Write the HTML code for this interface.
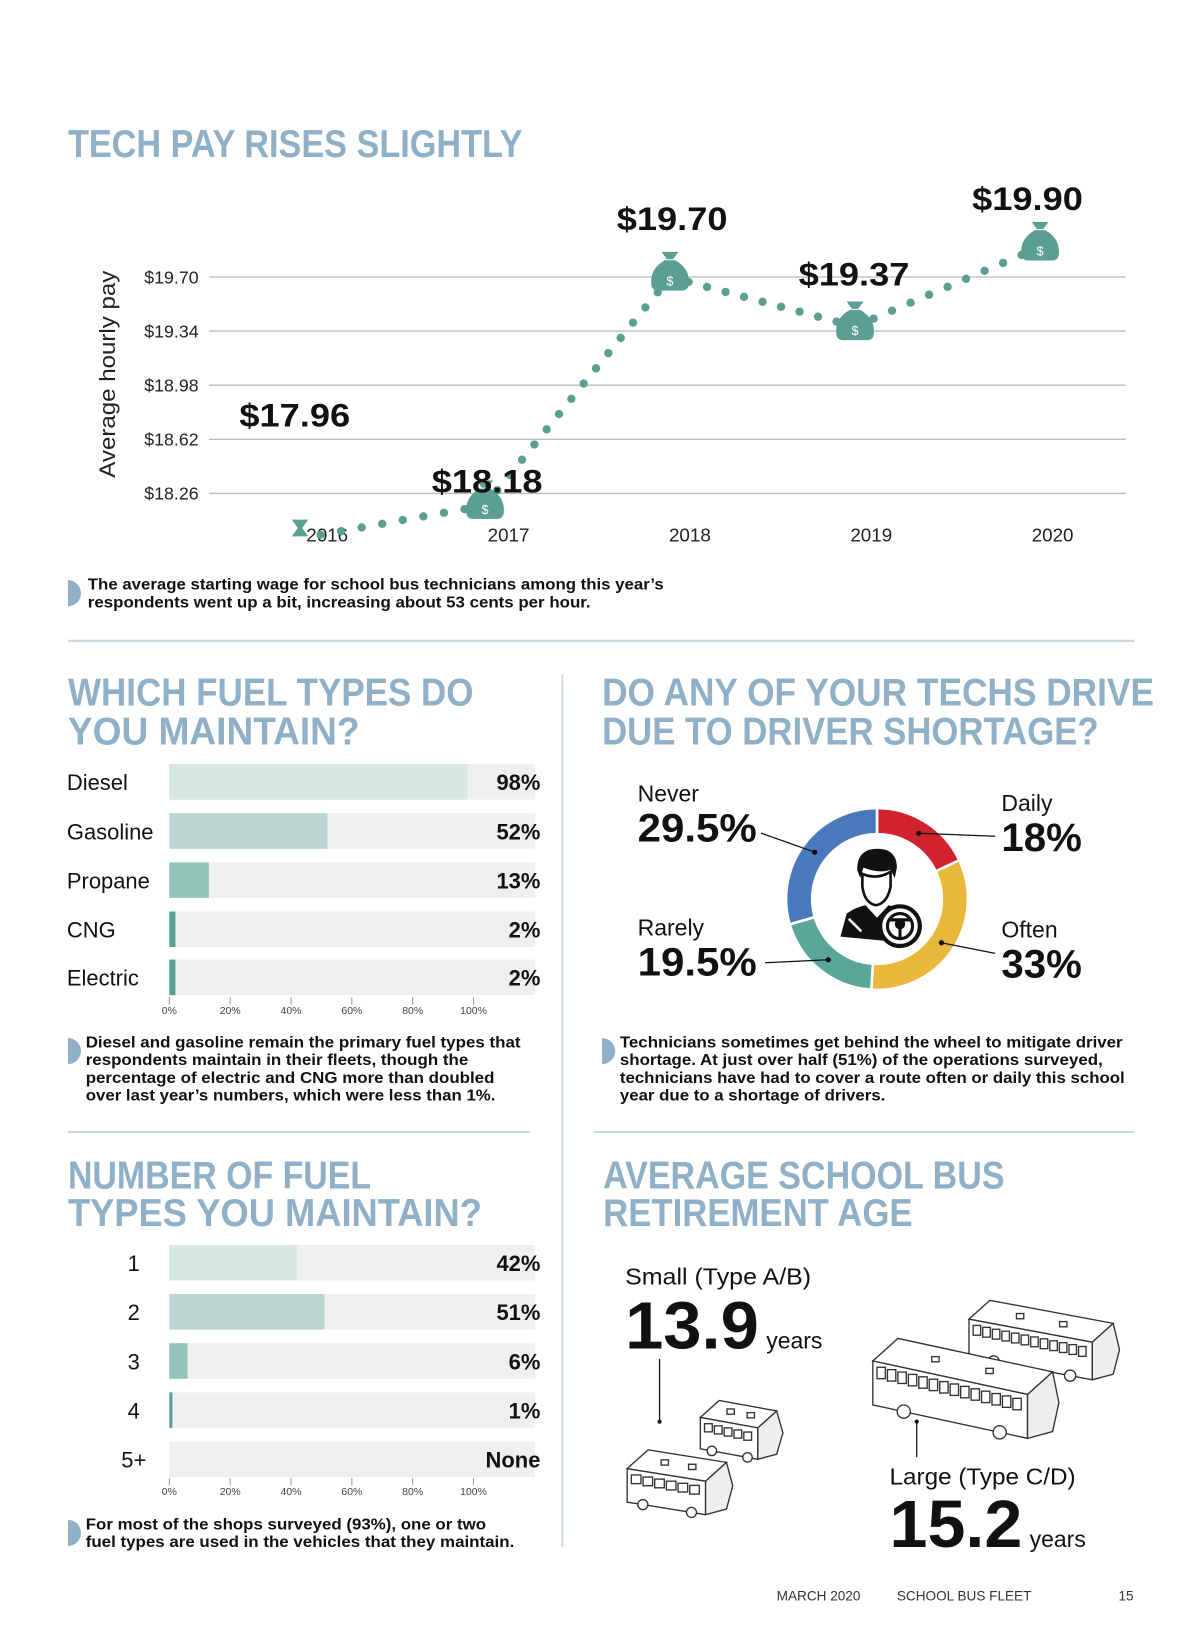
<!DOCTYPE html>
<html><head><meta charset="utf-8"><style>
html,body{margin:0;padding:0;background:#fff;}
svg{display:block;}
text{font-family:"Liberation Sans",sans-serif;}
.hd{font-family:"Liberation Sans Narrow","Liberation Sans",sans-serif;font-weight:bold;fill:#8fb0c7;font-size:37px;}
.cap{font-family:"Liberation Sans Narrow","Liberation Sans",sans-serif;font-weight:bold;font-size:15px;fill:#111;}
.big{font-weight:bold;fill:#111;}
</style></head><body>
<svg id="page" width="1200" height="1638" viewBox="0 0 1148 1567" preserveAspectRatio="none" xmlns="http://www.w3.org/2000/svg">
<g id="s1">
<text class="hd" x="65" y="150" textLength="435" lengthAdjust="spacingAndGlyphs">TECH PAY RISES SLIGHTLY</text>
<text transform="translate(110,358) rotate(-90)" text-anchor="middle" font-size="21" fill="#222" textLength="198" lengthAdjust="spacingAndGlyphs">Average hourly pay</text>
<g id="linechart"></g>
<path d="M65,555 A12,12 0 0 1 65,580 Z" fill="#8fb0c7"/>
<text class="cap" x="84" y="564" textLength="551" lengthAdjust="spacingAndGlyphs">The average starting wage for school bus technicians among this year’s</text>
<text class="cap" x="84" y="581" textLength="481" lengthAdjust="spacingAndGlyphs">respondents went up a bit, increasing about 53 cents per hour.</text>
<line x1="65" y1="613" x2="1085" y2="613" stroke="#c9d6dd" stroke-width="2"/>
</g>
<line x1="538" y1="645" x2="538" y2="1480" stroke="#c9d6dd" stroke-width="1.5"/>
<g>
<text class="hd" x="65" y="675" textLength="388" lengthAdjust="spacingAndGlyphs">WHICH FUEL TYPES DO</text>
<text class="hd" x="65" y="712" textLength="279" lengthAdjust="spacingAndGlyphs">YOU MAINTAIN?</text>
<g id="bars1"></g>
<path d="M65,993 A12,12 0 0 1 65,1018 Z" fill="#8fb0c7"/>
<text class="cap" x="82" y="1002" textLength="416" lengthAdjust="spacingAndGlyphs">Diesel and gasoline remain the primary fuel types that</text>
<text class="cap" x="82" y="1019" textLength="366" lengthAdjust="spacingAndGlyphs">respondents maintain in their fleets, though the</text>
<text class="cap" x="82" y="1036" textLength="391" lengthAdjust="spacingAndGlyphs">percentage of electric and CNG more than doubled</text>
<text class="cap" x="82" y="1053" textLength="392" lengthAdjust="spacingAndGlyphs">over last year’s numbers, which were less than 1%.</text>
<line x1="65" y1="1083" x2="507" y2="1083" stroke="#c9d6dd" stroke-width="2"/>
</g>
<g>
<text class="hd" x="576" y="675" textLength="528" lengthAdjust="spacingAndGlyphs">DO ANY OF YOUR TECHS DRIVE</text>
<text class="hd" x="576" y="712" textLength="475" lengthAdjust="spacingAndGlyphs">DUE TO DRIVER SHORTAGE?</text>
<g id="donut"></g>
<g fill="#111">
<path d="M820,832 q0,-20 19,-20 q19,0 19,18 l-2,10 l-4,-8 q-10,4 -26,-2 l-3,10 z"/>
<path d="M825,836 q14,6 27,-2 l0,14 q-3,16 -14,18 q-11,-2 -13,-18 z" fill="#fff" stroke="#111" stroke-width="2.5"/>
<path d="M804,896 l6,-22 q8,-6 18,-8 l11,12 l11,-12 q10,2 16,8 l2,6 q-16,4 -18,20 l-4,0 z"/>
<circle cx="861" cy="886" r="19" fill="#fff" stroke="#111" stroke-width="4"/>
<circle cx="861" cy="886" r="12" fill="none" stroke="#111" stroke-width="3"/>
<circle cx="861" cy="884" r="5"/>
<path d="M850,880 l22,0 M861,884 l0,14" stroke="#111" stroke-width="3"/>
<path d="M812,879 l12,12" stroke="#fff" stroke-width="2.5"/>
</g>
<g id="donutlabels"></g>
<path d="M576,993 A12,12 0 0 1 576,1018 Z" fill="#8fb0c7"/>
<text class="cap" x="593" y="1002" textLength="481" lengthAdjust="spacingAndGlyphs">Technicians sometimes get behind the wheel to mitigate driver</text>
<text class="cap" x="593" y="1019" textLength="462" lengthAdjust="spacingAndGlyphs">shortage. At just over half (51%) of the operations surveyed,</text>
<text class="cap" x="593" y="1036" textLength="483" lengthAdjust="spacingAndGlyphs">technicians have had to cover a route often or daily this school</text>
<text class="cap" x="593" y="1053" textLength="254" lengthAdjust="spacingAndGlyphs">year due to a shortage of drivers.</text>
<line x1="568" y1="1083" x2="1085" y2="1083" stroke="#c9d6dd" stroke-width="2"/>
</g>
<g>
<text class="hd" x="65" y="1137" textLength="290" lengthAdjust="spacingAndGlyphs">NUMBER OF FUEL</text>
<text class="hd" x="65" y="1173" textLength="396" lengthAdjust="spacingAndGlyphs">TYPES YOU MAINTAIN?</text>
<g id="bars2"></g>
<path d="M65,1454 A12,12 0 0 1 65,1479 Z" fill="#8fb0c7"/>
<text class="cap" x="82" y="1463" textLength="383" lengthAdjust="spacingAndGlyphs">For most of the shops surveyed (93%), one or two</text>
<text class="cap" x="82" y="1480" textLength="410" lengthAdjust="spacingAndGlyphs">fuel types are used in the vehicles that they maintain.</text>
</g>
<g>
<text class="hd" x="577" y="1137" textLength="384" lengthAdjust="spacingAndGlyphs">AVERAGE SCHOOL BUS</text>
<text class="hd" x="577" y="1173" textLength="296" lengthAdjust="spacingAndGlyphs">RETIREMENT AGE</text>
<text x="598" y="1229" font-size="22" fill="#111" textLength="178" lengthAdjust="spacingAndGlyphs">Small (Type A/B)</text>
<text class="big" x="598" y="1290" font-size="64" textLength="128" lengthAdjust="spacingAndGlyphs">13.9</text>
<text x="733" y="1290" font-size="22" fill="#111">years</text>
<line x1="631" y1="1300" x2="631" y2="1360" stroke="#111" stroke-width="1.2"/>
<circle cx="631" cy="1360" r="2" fill="#111"/>
<text x="851" y="1420" font-size="22" fill="#111" textLength="178" lengthAdjust="spacingAndGlyphs">Large (Type C/D)</text>
<text class="big" x="851" y="1480" font-size="64" textLength="127" lengthAdjust="spacingAndGlyphs">15.2</text>
<text x="985" y="1480" font-size="22" fill="#111">years</text>
<line x1="877" y1="1360" x2="877" y2="1394" stroke="#111" stroke-width="1.2"/>
<circle cx="877" cy="1360" r="2" fill="#111"/>
<g id="buses" fill="#fff" stroke="#333" stroke-width="1.3"></g>
</g>
<g font-size="13" fill="#333">
<text x="743" y="1531">MARCH 2020</text>
<text x="858" y="1531">SCHOOL BUS FLEET</text>
<text x="1070" y="1531">15</text>
</g>
</svg>
<script>
const NS="http://www.w3.org/2000/svg";
// line chart data
const years=["2016","2017","2018","2019","2020"];
const pay=[17.96,18.18,19.70,19.37,19.90];
const payLabels=["$17.96","$18.18","$19.70","$19.37","$19.90"];
const yTicks=[19.70,19.34,18.98,18.62,18.26];
const yTickLabels=["$19.70","$19.34","$18.98","$18.62","$18.26"];
// fuel bars
const fuelCats=["Diesel","Gasoline","Propane","CNG","Electric"];
const fuelVals=[98,52,13,2,2];
const fuelLabels=["98%","52%","13%","2%","2%"];
// fuel count bars
const countCats=["1","2","3","4","5+"];
const countVals=[42,51,6,1,0];
const countLabels=["42%","51%","6%","1%","None"];
const xTickVals=[0,20,40,60,80,100];
// donut
const shortCats=["Daily","Often","Rarely","Never"];
const shortVals=[18,33,19.5,29.5];
const shortLabels=["18%","33%","19.5%","29.5%"];

function mk(tag,attrs,parent,txt){const e=document.createElementNS(NS,tag);for(const k in attrs)e.setAttribute(k,attrs[k]);if(txt!==undefined)e.textContent=txt;parent.appendChild(e);return e;}

// ---- line chart
const lc=document.getElementById('linechart');
const yS=v=>265+(19.70-v)*(472-265)/1.44;
const xLab=i=>313+i*173.5;
const xPt=i=>287+i*177;
yTicks.forEach((v,i)=>{
  const l=mk('line',{x1:200,x2:1077,y1:yS(v),y2:yS(v),stroke:'#bbb','stroke-width':1.3},lc);
  
  
  const t=mk('text',{x:138,y:yS(v)+6,'font-size':17,fill:'#222',textLength:52,lengthAdjust:'spacingAndGlyphs'},lc,yTickLabels[i]);
  
  
});
years.forEach((y,i)=>{
  const t=mk('text',{x:xLab(i),y:518,'font-size':18,fill:'#222','text-anchor':'middle'},lc,y);
  
  
});
for(let i=0;i<pay.length-1;i++){
  const x1=xPt(i),y1=yS(pay[i]),x2=xPt(i+1),y2=yS(pay[i+1]);
  const d=Math.hypot(x2-x1,y2-y1);const n=Math.round(d/19);
  for(let k=1;k<n;k++){
    const f=k/n;const px=x1+(x2-x1)*f,py=y1+(y2-y1)*f;
    if(Math.hypot(px-x1,py-y1)<16||Math.hypot(px-x2,py-y2)<16)continue;
    const c=mk('circle',{cx:px,cy:py,r:4,fill:'#5a9e94'},lc);
    
    
  }
}
const labPos=[[229,408],[413,471],[590,220],[764,273],[930,201]];
pay.forEach((v,i)=>{
  const x=xPt(i),y=yS(v);
  const g=mk('g',{},lc);
  
  
  if(i===0){
    mk('path',{d:`M${x-8},${y-18} l16,0 l-6,8 l6,8 l-16,0 l6,-8 z`,fill:'#5a9e94'},g);
  } else {
    mk('path',{d:`M${x-8},${y-24} l16,0 l-5,7 l-6,0 z`,fill:'#5a9e94'},g);
    mk('path',{d:`M${x-5},${y-16} q-14,8 -13,22 q0,7 7,7 l22,0 q7,0 7,-7 q1,-14 -13,-22 z`,fill:'#5a9e94'},g);
    mk('text',{x:x,y:y+8,'font-size':12,fill:'#fff','text-anchor':'middle'},g,'$');
  }
  const t=mk('text',{x:labPos[i][0],y:labPos[i][1],'font-size':31,'font-weight':'bold',fill:'#111',textLength:106,lengthAdjust:'spacingAndGlyphs'},lc,payLabels[i]);
  
  
});

// ---- bar charts
function bars(id,cats,vals,labs,rows,labX,anchor,tickY,fills){
  const g=document.getElementById(id);
  const x0=162,xS=v=>x0+v*(453-162)/100;
  cats.forEach((c,i)=>{
    const cy=rows[i];
    const bg=mk('rect',{x:x0,y:cy-17,width:350,height:34,fill:'#eef0f0'},g);
    
    
    const b=mk('rect',{x:x0,y:cy-17,width:Math.max(0,xS(vals[i])-x0),height:34,fill:fills[i]},g);
    
    
    const t=mk('text',{x:labX,y:cy+8,'font-size':21,fill:'#111','text-anchor':anchor},g,c);
    
    
    const v=mk('text',{x:517,y:cy+8,'font-size':21,'font-weight':'bold',fill:'#111','text-anchor':'end'},g,labs[i]);
    
    
  });
  xTickVals.forEach(v=>{
    mk('line',{x1:xS(v),x2:xS(v),y1:tickY-13,y2:tickY-6,stroke:'#999','stroke-width':1},g);
    const t=mk('text',{x:xS(v),y:tickY+3,'font-size':10,fill:'#444','text-anchor':'middle'},g,v+'%');
    
    
  });
}
bars('bars1',fuelCats,fuelVals,fuelLabels,[748,795,842,889,935],64,'start',967,['#d7e7e3','#bad6d0','#93c4b8','#5a9e94','#5a9e94']);
bars('bars2',countCats,countVals,countLabels,[1208,1255,1302,1349,1396],128,'middle',1427,['#d7e7e3','#bad6d0','#93c4b8','#5a9e94','#5a9e94']);

// ---- donut
const dg=document.getElementById('donut');
const cx=839,cy=860,R=87,r=62;
const cols=['#d0232e','#e9b83c','#5aa79a','#4a78bd'];
const tot=shortVals.reduce((a,b)=>a+b,0);
let a0=0;
const mids=[];
shortVals.forEach((v,i)=>{
  const a1=a0+v/tot*2*Math.PI;
  const P=(a,rr)=>[cx+rr*Math.sin(a),cy-rr*Math.cos(a)];
  const [x1,y1]=P(a0,R),[x2,y2]=P(a1,R),[x3,y3]=P(a1,r),[x4,y4]=P(a0,r);
  const lg=(a1-a0)>Math.PI?1:0;
  const p=mk('path',{d:`M${x1},${y1} A${R},${R} 0 ${lg} 1 ${x2},${y2} L${x3},${y3} A${r},${r} 0 ${lg} 0 ${x4},${y4} Z`,fill:cols[i],stroke:'#fff','stroke-width':2.5},dg);
  
  
  mids.push(P((a0+a1)/2,(R+r)/2));
  a0=a1;
});
const dl=document.getElementById('donutlabels');
const lp=[[958,776,814,952,800],[958,897,935,952,912],[610,895,933,732,921],[610,767,805,728,797]];
shortCats.forEach((c,i)=>{
  const [x,yc,yv,lx,ly]=lp[i];
  const t=mk('text',{x:x,y:yc,'font-size':22,fill:'#111'},dl,c);
  
  
  const w=shortLabels[i].length>3?114:77;
  const v=mk('text',{x:x,y:yv,'font-size':38,'font-weight':'bold',fill:'#111',textLength:w,lengthAdjust:'spacingAndGlyphs'},dl,shortLabels[i]);
  
  
  const ln=mk('line',{x1:lx,y1:ly,x2:mids[i][0],y2:mids[i][1],stroke:'#111','stroke-width':1.2},dl);
  
  
  mk('circle',{cx:mids[i][0],cy:mids[i][1],r:2.5,fill:'#111'},dl);
});

// ---- buses
const bg=document.getElementById('buses');
function bus(x,y,w,h,dx,dy,n){
  const g=mk('g',{},bg);
  
  
  const ry=dx*0.9;
  mk('path',{d:`M${x},${y} L${x+dx},${y-ry} L${x+w+dx},${y+dy-ry} L${x+w},${y+dy} Z`},g);
  mk('path',{d:`M${x},${y} L${x+w},${y+dy} L${x+w},${y+dy+h} L${x},${y+h} Z`},g);
  mk('path',{d:`M${x+w},${y+dy} L${x+w+dx},${y+dy-ry} L${x+w+dx+6},${y+dy-ry+h*0.7} L${x+w+dx},${y+dy+h-ry*0.3} L${x+w},${y+dy+h} Z`,fill:'#eee'},g);
  for(let k=0;k<n;k++){
    const wx=x+4+k*(w-8)/n, wy=y+6+dy*(k/n);
    mk('rect',{x:wx,y:wy,width:(w-8)/n-2,height:h*0.26},g);
  }
  mk('circle',{cx:x+w*0.2,cy:y+h+dy*0.2,r:h*0.15},g);
  mk('circle',{cx:x+w*0.82,cy:y+h+dy*0.82,r:h*0.15},g);
  mk('rect',{x:x+dx*0.5+w*0.3,y:y-ry*0.5+dy*0.3-3,width:7,height:5},g);
  mk('rect',{x:x+dx*0.5+w*0.65,y:y-ry*0.5+dy*0.65-3,width:7,height:5},g);
}
bus(927,1262,118,36,20,22,12);
bus(835,1302,148,42,24,32,14);
bus(670,1356,55,30,18,10,5);
bus(600,1405,75,32,20,12,6);
</script>
</body></html>
